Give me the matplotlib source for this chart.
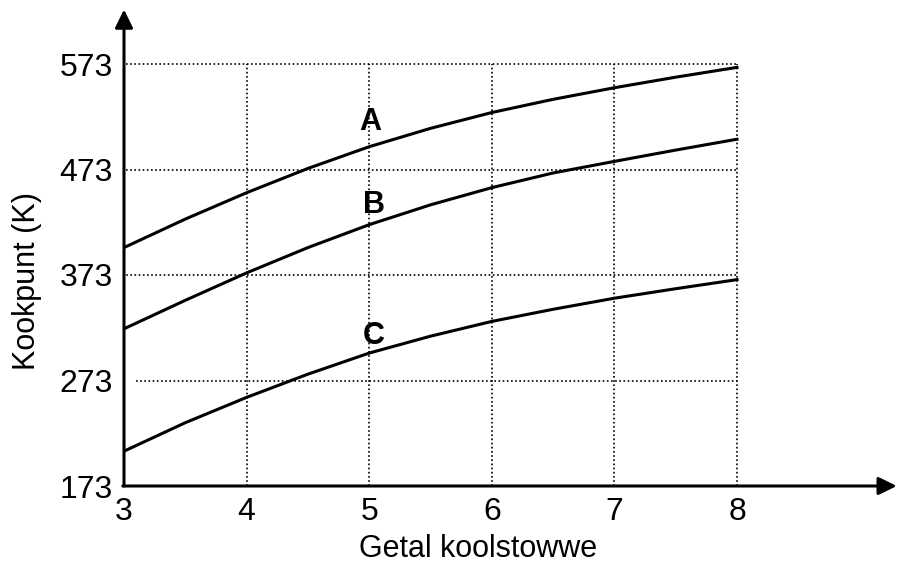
import matplotlib.pyplot as plt

plt.rcParams['font.family'] = ['Liberation Sans', 'DejaVu Sans']

# values (every half carbon number)
carbon = [3, 3.5, 4, 4.5, 5, 5.5, 6, 6.5, 7, 7.5, 8]
curve_a = [399, 426, 451, 474, 494.6, 512, 527, 539.5, 550.5, 560.5, 569.8]
curve_b = [322, 349, 375, 399, 420.7, 439.5, 455.8, 469.7, 480.7, 491.4, 501.7]
curve_c = [206, 233, 257, 279, 299, 315, 329, 340.5, 351, 360, 368.6]
x_ticks = [3, 4, 5, 6, 7, 8]
y_ticks = [173, 273, 373, 473, 573]
labels = {'A': (5.01, 518), 'B': (5.04, 439.5), 'C': (5.04, 315)}

fig = plt.figure(figsize=(8.98, 5.64), dpi=100)
ax = fig.add_axes([124 / 898, 78 / 564, 774 / 898, 486 / 564])
ax.set_xlim(3, 3 + 774 / 122.6)
ax.set_ylim(173, 173 + 486 / 1.055)

# dotted grid inside the data box
dot = dict(color='black', lw=1.2, linestyle=(0, (1, 1.5)))
for x in x_ticks[1:]:
    ax.plot([x, x], [173, 573], **dot)
grid_start = {273: 3.1, 373: 2.98, 473: 3.02, 573: 3.02}
for y in y_ticks[1:]:
    ax.plot([grid_start[y], 8], [y, y], **dot)

for ys in (curve_a, curve_b, curve_c):
    ax.plot(carbon, ys, color='black', lw=2.2, solid_joinstyle='round')

for name, (x, y) in labels.items():
    ax.text(x, y, name, fontsize=22, fontweight='bold', ha='center', va='center')

# axes drawn as arrows
for s in ax.spines.values():
    s.set_visible(False)
arrow = dict(arrowstyle='-|>,head_length=0.55,head_width=0.27', mutation_scale=20,
             color='black', lw=2.2, shrinkA=0, shrinkB=0)
top = ax.get_ylim()[1]
right = ax.get_xlim()[1]
ax.annotate('', xy=(3, top - 9), xytext=(3, 173), arrowprops=arrow, annotation_clip=False)
ax.annotate('', xy=(right - 0.01, 173), xytext=(2.99, 173), arrowprops=arrow,
            annotation_clip=False)

ax.set_xticks(x_ticks)
ax.set_yticks(y_ticks)
ax.tick_params(axis='y', length=0, labelsize=23, pad=8)
ax.tick_params(axis='x', length=0, labelsize=23, pad=8)
ax.set_xlabel('Getal koolstowwe', fontsize=22, va='center')
ax.xaxis.set_label_coords((478 - 124) / 774, (486 - 549) / 486)
ax.set_ylabel('Kookpunt (K)', fontsize=22, va='center')
ax.yaxis.set_label_coords((27 - 124) / 774, (486 - 281) / 486)

fig.savefig('out.png', dpi=100)
